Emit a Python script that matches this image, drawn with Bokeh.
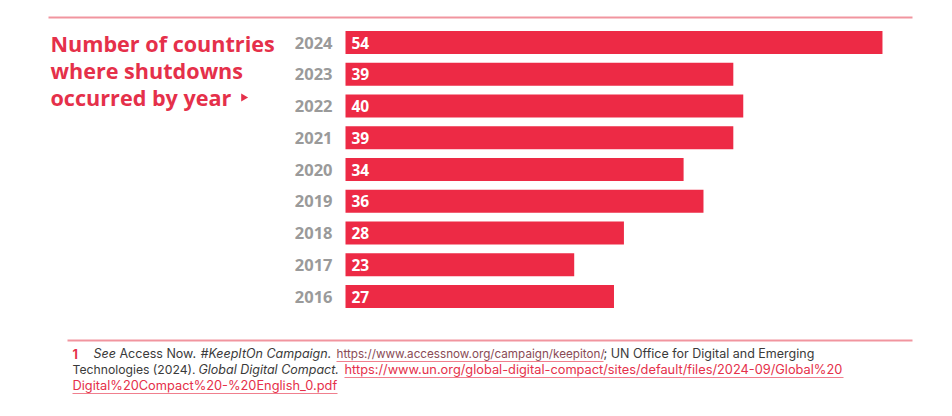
from bokeh.plotting import figure
from bokeh.models import Range1d
from bokeh.core.properties import value
from bokeh.embed import file_html
from bokeh.resources import INLINE

# Countries where internet shutdowns occurred, by year
years = [2024, 2023, 2022, 2021, 2020, 2019, 2018, 2017, 2016]
countries = [54, 39, 40, 39, 34, 36, 28, 23, 27]
year_labels = [str(y) for y in years]
count_labels = [str(c) for c in countries]

title_lines = ["Number of countries", "where shutdowns", "occurred by year"]

RED = "#ED2A45"
TITLE_RED = "#E5304A"
RULE = "#F1959F"
GRAY = "#9A9A9A"
NOTE = "#3A3A3A"

W, H = 952, 416
PX_PER_UNIT = 9.944      # horizontal scale of the bars
BAR_X0 = 345             # pixel where the value axis starts
ROW = 31.75              # pixel distance between rows
TOP_ROW_Y = 42           # pixel centre of the first row

x_start = -BAR_X0 / PX_PER_UNIT
x_end = (W - BAR_X0) / PX_PER_UNIT
y_top = years[0] + TOP_ROW_Y / ROW
y_bottom = y_top - H / ROW

p = figure(width=W, height=H, output_backend="svg", toolbar_location=None,
           x_range=Range1d(x_start, x_end), y_range=Range1d(y_bottom, y_top),
           min_border=0, outline_line_color=None, background_fill_color="white",
           border_fill_color="white")
p.xaxis.visible = False
p.yaxis.visible = False
p.grid.visible = False

# pixel-space ranges for the page furniture (rules, title, footnote)
p.extra_x_ranges = {"px": Range1d(0, W)}
p.extra_y_ranges = {"px": Range1d(H, 0)}
PX = dict(x_range_name="px", y_range_name="px")

# bars
p.hbar(y=years, left=0, right=countries, height=0.72, fill_color=RED,
       line_color=None)

# value labels inside the bars
p.text(x=[0] * len(years), y=years, text=count_labels, x_offset=6,
       text_align="left", text_baseline="middle", text_color="white",
       text_font=value("Open Sans"), text_font_style="bold",
       text_font_size=value("15.5px"))

# year labels to the left of the bars
p.text(x=[0] * len(years), y=years, text=year_labels, x_offset=-13,
       text_align="right", text_baseline="middle", text_color=GRAY,
       text_font=value("Open Sans"), text_font_style="bold",
       text_font_size=value("16.5px"))

# horizontal rules
p.segment(x0=[48], y0=[17], x1=[912], y1=[17], line_color=RULE, line_width=2, **PX)
p.segment(x0=[67], y0=[340], x1=[912], y1=[340], line_color=RULE, line_width=2, **PX)

# title block
for i, line in enumerate(title_lines):
    p.text(x=[50], y=[43 + i * 27], text=[line], text_align="left",
           text_baseline="middle", text_color=TITLE_RED,
           text_font=value("Open Sans"), text_font_style="bold",
           text_font_size=value("21.6px"), **PX)
p.scatter(x=[243], y=[97], marker="triangle", angle=-1.5708, size=8,
          fill_color=TITLE_RED, line_color=None, **PX)

# footnote
FONT = value("Inter")
segments = [
    # (x, y, text, style, colour, size)
    (72, 353, "1", "bold", TITLE_RED, "12.5px"),
    (93, 353, "See", "italic", NOTE, "12.5px"),
    (119, 353, "Access Now.", "normal", NOTE, "12.5px"),
    (200, 353, "#KeepItOn Campaign.", "italic", NOTE, "12.5px"),
    (336, 353, "https://www.accessnow.org/campaign/keepiton/", "normal", "#8A4B55", "11.7px"),
    (603, 353, "; UN Office for Digital and Emerging", "normal", NOTE, "12.5px"),
    (72, 369, "Technologies (2024).", "normal", NOTE, "12.2px"),
    (198, 369, "Global Digital Compact.", "italic", NOTE, "12.5px"),
    (344, 369, "https://www.un.org/global-digital-compact/sites/default/files/2024-09/Global%20",
     "normal", TITLE_RED, "12.8px"),
    (72, 385, "Digital%20Compact%20-%20English_0.pdf", "normal", TITLE_RED, "12.8px"),
]
for x, y, t, style, col, size in segments:
    p.text(x=[x], y=[y], text=[t], text_align="left", text_baseline="middle",
           text_color=col, text_font=FONT, text_font_style=style,
           text_font_size=value(size), **PX)

# link underlines
p.segment(x0=[336, 344, 72], y0=[361, 377, 393], x1=[603, 843, 337],
          y1=[361, 377, 393], line_color="#F07F8E", line_width=1.2, **PX)

open("out.html", "w").write(file_html(p, INLINE))
